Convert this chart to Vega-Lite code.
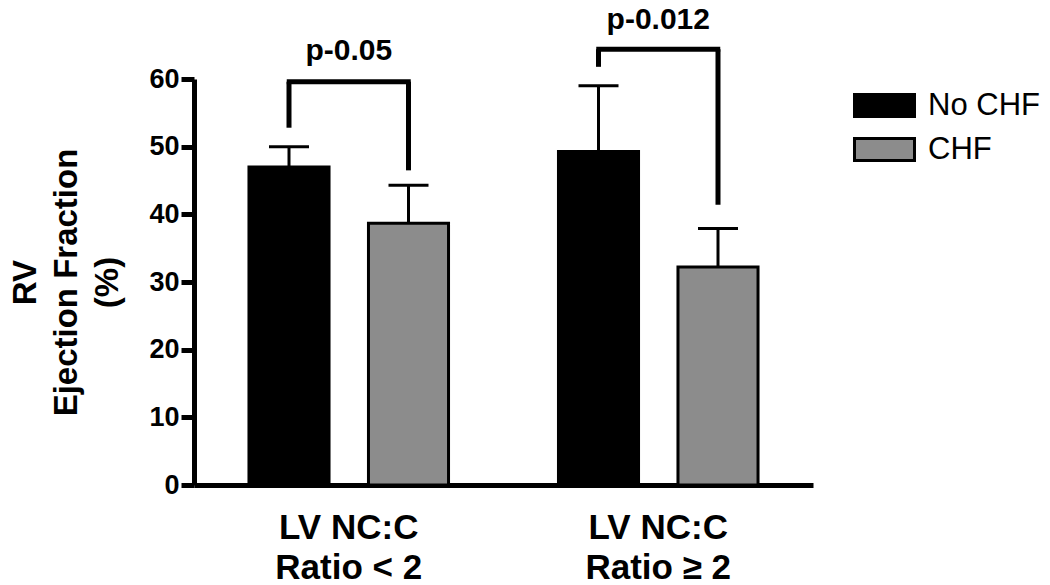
{
  "$schema": "https://vega.github.io/schema/vega-lite/v6.json",
  "width": 619,
  "height": 406,
  "autosize": {"type": "none"},
  "padding": {"left": 194, "top": 79, "right": 237, "bottom": 100},
  "config": {
    "view": {"stroke": null},
    "font": "Liberation Sans",
    "axisY": {
      "tickCount": 7,
      "grid": false,
      "titleFontSize": 33,
      "titleFontWeight": "bold",
      "titleColor": "#000000",
      "titleLineHeight": 41,
      "titlePadding": 24,
      "labelFontSize": 27,
      "labelFontWeight": "bold",
      "labelColor": "#000000",
      "labelPadding": 2,
      "tickSize": 13,
      "tickWidth": 5,
      "tickColor": "#000000",
      "domainColor": "#000000",
      "domainWidth": 5
    }
  },
  "datasets": {
    "bars": [
      {"group": "LV NC:C|Ratio < 2", "status": "No CHF", "value": 47.0, "err": 50.0},
      {"group": "LV NC:C|Ratio < 2", "status": "CHF", "value": 38.7, "err": 44.3},
      {"group": "LV NC:C|Ratio ≥ 2", "status": "No CHF", "value": 49.3, "err": 59.0},
      {"group": "LV NC:C|Ratio ≥ 2", "status": "CHF", "value": 32.2, "err": 37.9}
    ],
    "legs": [
      {"group": "LV NC:C|Ratio < 2", "status": "No CHF", "low": 52.8, "high": 59.6},
      {"group": "LV NC:C|Ratio < 2", "status": "CHF", "low": 46.5, "high": 59.6},
      {"group": "LV NC:C|Ratio ≥ 2", "status": "No CHF", "low": 61.8, "high": 64.4},
      {"group": "LV NC:C|Ratio ≥ 2", "status": "CHF", "low": 41.4, "high": 64.4}
    ],
    "brackets": [
      {"group": "LV NC:C|Ratio < 2", "top": 59.6, "label": "p-0.05", "labelY": 62.8},
      {"group": "LV NC:C|Ratio ≥ 2", "top": 64.4, "label": "p-0.012", "labelY": 67.4}
    ]
  },
  "encoding": {
    "x": {
      "field": "group",
      "type": "nominal",
      "scale": {"domain": ["LV NC:C|Ratio < 2", "LV NC:C|Ratio ≥ 2"], "paddingInner": 0, "paddingOuter": 0},
      "axis": {
        "title": null,
        "labelExpr": "split(datum.label, '|')",
        "labelAngle": 0,
        "labelFontSize": 35,
        "labelFontWeight": "bold",
        "labelColor": "#000000",
        "labelLineHeight": 40,
        "labelPadding": 25,
        "labelBaseline": "top",
        "ticks": false,
        "tickSize": 0,
        "domainColor": "#000000",
        "domainWidth": 5
      }
    }
  },
  "layer": [
    {
      "data": {"name": "bars"},
      "mark": {"type": "bar", "stroke": "#000000", "strokeWidth": 3},
      "encoding": {
        "xOffset": {"field": "status", "type": "nominal", "scale": {"domain": ["No CHF", "CHF"], "paddingInner": 0.33, "paddingOuter": 0.46}},
        "y": {
          "field": "value",
          "type": "quantitative",
          "scale": {"domain": [0, 60], "nice": false},
          "axis": {"title": ["RV", "Ejection Fraction", "(%)"], "values": [0, 10, 20, 30, 40, 50, 60]}
        },
        "color": {
          "field": "status",
          "type": "nominal",
          "scale": {"domain": ["No CHF", "CHF"], "range": ["#000000", "#8c8c8c"]},
          "legend": {
            "title": null,
            "orient": "none",
            "legendX": 674,
            "legendY": 10,
            "padding": 0,
            "symbolType": "M-2,-0.73H2V0.73H-2Z",
            "symbolSize": 900,
            "symbolStrokeColor": "#000000",
            "symbolStrokeWidth": 3,
            "symbolOpacity": 1,
            "labelFontSize": 31,
            "labelColor": "#000000",
            "labelOffset": 27,
            "rowPadding": 9
          }
        }
      }
    },
    {
      "data": {"name": "bars"},
      "mark": {"type": "rule", "color": "#000000", "strokeWidth": 3},
      "encoding": {
        "xOffset": {"field": "status", "type": "nominal"},
        "y": {"field": "value", "type": "quantitative", "axis": {"title": ["RV", "Ejection Fraction", "(%)"], "values": [0, 10, 20, 30, 40, 50, 60]}},
        "y2": {"field": "err"}
      }
    },
    {
      "data": {"name": "bars"},
      "mark": {"type": "tick", "color": "#000000", "size": 40, "thickness": 3, "opacity": 1},
      "encoding": {
        "xOffset": {"field": "status", "type": "nominal"},
        "y": {"field": "err", "type": "quantitative", "axis": {"title": ["RV", "Ejection Fraction", "(%)"], "values": [0, 10, 20, 30, 40, 50, 60]}}
      }
    },
    {
      "data": {"name": "legs"},
      "mark": {"type": "rule", "color": "#000000", "strokeWidth": 5},
      "encoding": {
        "xOffset": {"field": "status", "type": "nominal"},
        "y": {"field": "low", "type": "quantitative", "axis": {"title": ["RV", "Ejection Fraction", "(%)"], "values": [0, 10, 20, 30, 40, 50, 60]}},
        "y2": {"field": "high"}
      }
    },
    {
      "data": {"name": "brackets"},
      "mark": {"type": "tick", "color": "#000000", "size": 124, "thickness": 5, "opacity": 1},
      "encoding": {
        "y": {"field": "top", "type": "quantitative", "axis": {"title": ["RV", "Ejection Fraction", "(%)"], "values": [0, 10, 20, 30, 40, 50, 60]}}
      }
    },
    {
      "data": {"name": "brackets"},
      "mark": {"type": "text", "fontSize": 30, "fontWeight": "bold", "color": "#000000", "baseline": "alphabetic", "align": "center"},
      "encoding": {
        "y": {"field": "labelY", "type": "quantitative", "axis": {"title": ["RV", "Ejection Fraction", "(%)"], "values": [0, 10, 20, 30, 40, 50, 60]}},
        "text": {"field": "label"}
      }
    }
  ]
}
